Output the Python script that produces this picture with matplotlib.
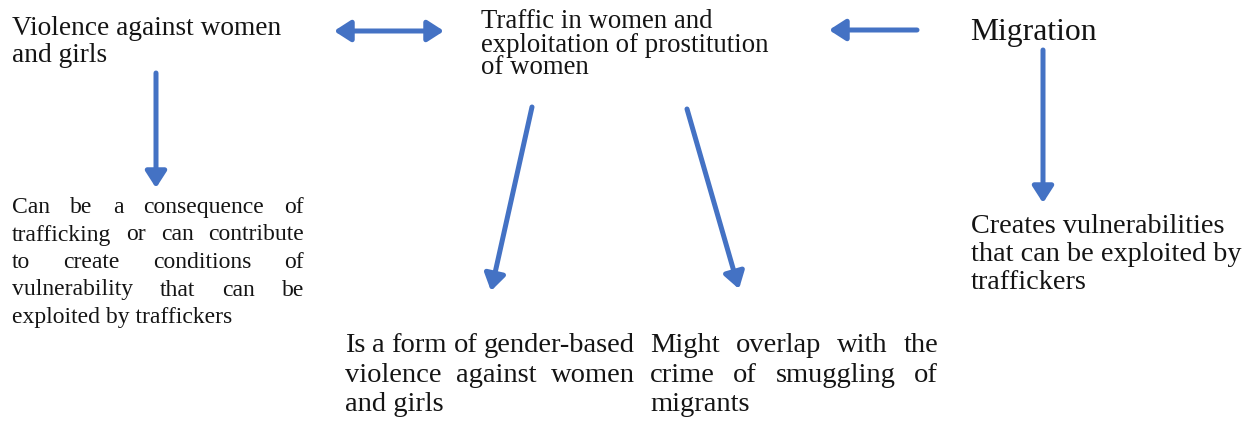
import matplotlib
matplotlib.use("Agg")
import matplotlib.pyplot as plt

# ---- content ----
title_violence = ["Violence against women", "and girls"]
title_traffic = ["Traffic in women and", "exploitation of prostitution", "of women"]
title_migration = ["Migration"]
note_violence = ["Can be a consequence of", "trafficking or can contribute",
                 "to create conditions of", "vulnerability that can be",
                 "exploited by traffickers"]
note_gender = ["Is a form of gender-based", "violence against women", "and girls"]
note_smuggling = ["Might overlap with the", "crime of smuggling of", "migrants"]
note_migration = ["Creates vulnerabilities", "that can be exploited by", "traffickers"]

# ---- layout ----
W, H = 1259, 421
ARROW_COLOR = "#4472C4"
TEXT_COLOR = "#141414"
FONT = "Liberation Serif"

fig = plt.figure(figsize=(W / 100, H / 100), dpi=100)
ax = fig.add_axes([0, 0, 1, 1])
ax.set_xlim(0, W)
ax.set_ylim(H, 0)
ax.axis("off")
renderer = fig.canvas.get_renderer()


def block(lines, x0, baselines, size, x1=None, justify=False):
    for i, line in enumerate(lines):
        last = i == len(lines) - 1
        if justify and not last and x1 is not None and len(line.split()) > 1:
            words = line.split()
            objs = [ax.text(0, baselines[i], w, fontsize=size, family=FONT,
                            color=TEXT_COLOR, va="baseline", ha="left")
                    for w in words]
            widths = [o.get_window_extent(renderer).width for o in objs]
            gap = (x1 - x0 - sum(widths)) / (len(words) - 1)
            x = x0
            for o, wd in zip(objs, widths):
                o.set_x(x)
                x += wd + gap
        else:
            ax.text(x0, baselines[i], line, fontsize=size, family=FONT,
                    color=TEXT_COLOR, va="baseline", ha="left")


block(title_violence, 12, [35, 62], 19.7)
block(title_traffic, 481, [28, 51.5, 74.5], 19.3)
block(title_migration, 970, [40], 22.8)
block(note_violence, 12, [213, 240.5, 268, 295.5, 323], 17, x1=304, justify=True)
block(note_gender, 345, [352, 382, 411], 20.5, x1=635, justify=True)
block(note_smuggling, 650, [352, 382, 411], 20.5, x1=938, justify=True)
block(note_migration, 971, [233, 261, 289], 20.3)


def arrow(start, end, style="-|>"):
    ax.annotate("", xy=end, xytext=start,
                arrowprops=dict(arrowstyle=style + ",head_length=0.7,head_width=0.45",
                                color=ARROW_COLOR, lw=3.6, shrinkA=0, shrinkB=0,
                                mutation_scale=14))


arrow((334, 31), (444, 31), style="<|-|>")
arrow((917, 30), (829, 30))
arrow((156, 73), (156, 188))
arrow((532, 107), (491, 291))
arrow((687, 109), (739, 289))
arrow((1043, 50), (1043, 203))

fig.savefig("out.png", dpi=100, facecolor="white")
